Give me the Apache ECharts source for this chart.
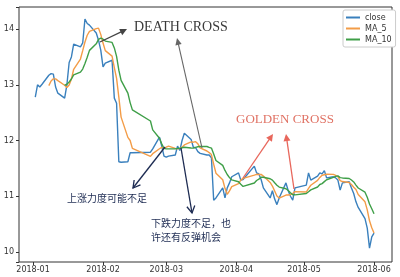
<!DOCTYPE html>
<html><head><meta charset="utf-8">
<script src="https://cdn.jsdelivr.net/npm/echarts@6/dist/echarts.min.js"></script>
<style>html,body{margin:0;padding:0;background:#fff}#c{width:400px;height:277px}</style>
</head><body><div id="c"></div>
<script>
const dates = [
"2018-01-02","2018-01-03","2018-01-04","2018-01-05",
"2018-01-08","2018-01-09","2018-01-10","2018-01-11","2018-01-12",
"2018-01-15","2018-01-16","2018-01-17","2018-01-18","2018-01-19",
"2018-01-22","2018-01-23","2018-01-24","2018-01-25","2018-01-26",
"2018-01-29","2018-01-30","2018-01-31","2018-02-01","2018-02-02",
"2018-02-05","2018-02-06","2018-02-07","2018-02-08","2018-02-09",
"2018-02-12","2018-02-13","2018-02-14",
"2018-02-22","2018-02-23",
"2018-02-26","2018-02-27","2018-02-28","2018-03-01","2018-03-02",
"2018-03-05","2018-03-06","2018-03-07","2018-03-08","2018-03-09",
"2018-03-12","2018-03-13","2018-03-14","2018-03-15","2018-03-16",
"2018-03-19","2018-03-20","2018-03-21","2018-03-22","2018-03-23",
"2018-03-26","2018-03-27","2018-03-28","2018-03-29","2018-03-30",
"2018-04-02","2018-04-03","2018-04-04",
"2018-04-09","2018-04-10","2018-04-11","2018-04-12","2018-04-13",
"2018-04-16","2018-04-17","2018-04-18","2018-04-19","2018-04-20",
"2018-04-23","2018-04-24","2018-04-25","2018-04-26","2018-04-27",
"2018-05-02","2018-05-03","2018-05-04",
"2018-05-07","2018-05-08","2018-05-09","2018-05-10","2018-05-11",
"2018-05-14","2018-05-15","2018-05-16","2018-05-17","2018-05-18",
"2018-05-21","2018-05-22","2018-05-23","2018-05-24","2018-05-25",
"2018-05-28","2018-05-29","2018-05-30","2018-05-31","2018-06-01"
];
const closeVals = [
12.78,13.00,12.96,13.01,
13.17,13.20,13.19,12.96,12.85,
12.76,13.00,13.40,13.50,13.73,
13.68,13.75,14.18,14.10,14.07,
13.93,13.80,13.62,13.32,13.39,
13.44,12.76,12.67,11.62,11.61,
11.62,11.78,11.78,
11.79,11.85,
12.06,11.90,11.72,11.70,11.72,
11.74,11.90,11.82,12.00,12.13,
12.02,11.88,11.87,11.80,11.77,
11.74,11.74,11.69,10.93,10.97,
11.15,10.97,11.15,11.24,11.35,
11.42,11.29,11.30,
11.54,11.42,11.40,11.30,11.15,
10.97,11.10,10.95,10.85,10.97,
11.24,11.10,11.00,10.93,11.15,
11.20,11.42,11.29,
11.36,11.42,11.40,11.46,11.33,
11.35,11.33,11.29,11.11,11.24,
11.26,11.15,11.05,10.90,10.80,
10.60,10.43,10.07,10.27,10.34
];
const ma5Vals = [
null,null,null,null,
12.984,13.068,13.106,13.106,13.074,12.992,
12.952,12.994,13.102,13.278,13.462,13.612,13.768,13.888,13.956,14.006,
14.016,13.904,13.748,13.612,13.514,13.306,13.116,12.776,12.42,12.056,
12.0,11.86,11.716,11.764,11.852,11.876,11.864,11.88,11.9,11.86,
11.85,11.86,11.88,11.92,11.974,11.97,11.98,11.94,11.868,11.812,
11.784,11.748,11.574,11.414,11.296,11.142,11.034,11.096,11.172,11.226,
11.29,11.32,11.38,11.394,11.39,11.392,11.362,11.248,11.184,11.094,
11.004,10.968,11.022,11.022,11.032,11.048,11.084,11.076,11.14,11.198,
11.284,11.338,11.378,11.386,11.394,11.392,11.374,11.352,11.282,11.264,
11.246,11.21,11.162,11.12,11.032,10.90,10.756,10.56,10.434,10.342
];
const ma10Vals = [
null,null,null,null,null,null,null,null,null,
12.988,
13.01,13.05,13.104,13.176,13.227,13.282,13.381,13.495,13.617,13.734,
13.814,13.836,13.818,13.784,13.76,13.661,13.51,13.262,13.08,12.85,
12.68,12.55,12.35,12.19,12.04,11.94,11.86,11.85,11.85,11.85,
11.86,11.86,11.87,11.88,11.865,11.863,11.878,11.888,11.893,11.893,
11.877,11.864,11.757,11.641,11.554,11.463,11.391,11.335,11.293,11.261,
11.216,11.177,11.238,11.283,11.308,11.341,11.341,11.314,11.289,11.242,
11.198,11.165,11.135,11.103,11.063,11.026,11.026,11.049,11.081,11.115,
11.166,11.211,11.227,11.263,11.296,11.338,11.356,11.365,11.334,11.329,
11.319,11.292,11.257,11.201,11.148,11.073,10.983,10.861,10.777,10.687
];
const seriesNames = ["close","MA_5","MA_10"];
const xTickLabels = ["2018-01","2018-02","2018-03","2018-04","2018-05","2018-06"];
const yTickLabels = [10,11,12,13,14];

function pairs(vals){
  const out=[];
  for(let i=0;i<dates.length;i++){ if(vals[i]!==null) out.push([dates[i], vals[i]]); }
  return out;
}
function arrow(x1,y1,x2,y2,color,w,open,L,W){
  const a=Math.atan2(y2-y1,x2-x1), c=Math.cos(a), s=Math.sin(a);
  const p1=[x2-L*c+W*s, y2-L*s-W*c], p2=[x2-L*c-W*s, y2-L*s+W*c];
  const els=[{type:'line',silent:true,z:50,shape:{x1:x1,y1:y1,x2:open?x2:x2-L*0.6*c,y2:open?y2:y2-L*0.6*s},style:{stroke:color,lineWidth:w}}];
  if(open){
    els.push({type:'polyline',silent:true,z:50,shape:{points:[p1,[x2,y2],p2]},style:{stroke:color,lineWidth:w,fill:null}});
  } else {
    els.push({type:'polygon',silent:true,z:50,shape:{points:[p1,[x2,y2],p2]},style:{fill:color,stroke:null}});
  }
  return els;
}
const navy='#1d2b52', red='#e8675c', dark='#444';
const graphics = [].concat(
  arrow(100,42,127,29,dark,1.3,false,7,3.5),
  arrow(202,148,177,38,'#666',1.1,false,7,3.2),
  arrow(165,147,133,188,navy,1.3,true,7,4),
  arrow(181,148,192,213,navy,1.3,true,7,4),
  arrow(243,178,273,134,red,1.3,false,7,3.5),
  arrow(294,189,286,134,red,1.3,false,7,3.5),
  [
    {type:'text',z:60,left:134,top:20,style:{text:'DEATH CROSS',fontFamily:'Liberation Serif',fontSize:14,fill:'#3a3a3a'}},
    {type:'text',z:60,left:236,top:113,style:{text:'GOLDEN CROSS',fontFamily:'Liberation Serif',fontSize:13,fill:'#e07264'}},
    {type:'text',z:60,left:67,top:193,style:{text:'上涨力度可能不足',fontFamily:'Noto Sans CJK SC',fontSize:10,fill:navy}},
    {type:'text',z:60,left:151,top:218,style:{text:'下跌力度不足，也',fontFamily:'Noto Sans CJK SC',fontSize:10,fill:navy}},
    {type:'text',z:60,left:151,top:232,style:{text:'许还有反弹机会',fontFamily:'Noto Sans CJK SC',fontSize:10,fill:navy}}
  ]
);

const chart = echarts.init(document.getElementById('c'), null, {renderer:'canvas'});
chart.setOption({
  animation:false,
  backgroundColor:'#fff',
  grid:{left:19,right:8,top:7,bottom:15,show:true,borderColor:'#333',borderWidth:1,backgroundColor:'#fff'},
  legend:{
    data:seriesNames, orient:'vertical', left:343, top:10,
    icon:'rect', itemWidth:14, itemHeight:2, itemGap:2,
    textStyle:{fontSize:8,color:'#333',fontFamily:'DejaVu Sans',lineHeight:9},
    padding:[3,4,3,3], borderColor:'#ccc', borderWidth:1, borderRadius:2, backgroundColor:'#fff'
  },
  xAxis:{
    type:'time',
    min:new Date(2017,11,25,19).getTime(),
    max:new Date(2018,5,8,23).getTime(),
    splitNumber:6,
    axisLine:{show:false},
    axisTick:{show:true,length:3,lineStyle:{color:'#333'}},
    splitLine:{show:false},
    axisLabel:{fontSize:8,color:'#333',fontFamily:'DejaVu Sans',margin:4,
      formatter:function(v){const d=new Date(v);const s=d.getFullYear()+'-'+String(d.getMonth()+1).padStart(2,'0');return (d.getDate()===1&&xTickLabels.indexOf(s)>=0)?s:'';}}
  },
  yAxis:{
    type:'value', min:9.821, max:14.395, splitNumber:5,
    axisLine:{show:false},
    axisTick:{show:true,length:3,lineStyle:{color:'#333'}},
    splitLine:{show:false},
    axisLabel:{fontSize:8,color:'#333',fontFamily:'DejaVu Sans',margin:5,
      formatter:function(v){const r=Math.round(v*1000)/1000;return yTickLabels.indexOf(r)>=0?String(r):'';}}
  },
  series:[
    {name:seriesNames[0],type:'line',data:pairs(closeVals),showSymbol:false,color:'#3a80bd',lineStyle:{width:1.4}},
    {name:seriesNames[1],type:'line',data:pairs(ma5Vals),showSymbol:false,color:'#f39c47',lineStyle:{width:1.4}},
    {name:seriesNames[2],type:'line',data:pairs(ma10Vals),showSymbol:false,color:'#3f9f48',lineStyle:{width:1.4}}
  ],
  graphic:graphics
});
</script></body></html>
